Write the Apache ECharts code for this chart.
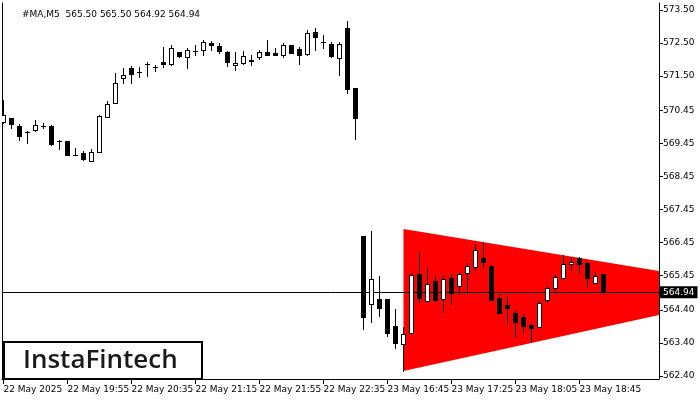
<!DOCTYPE html>
<html>
<head>
<meta charset="utf-8">
<script src="https://cdn.jsdelivr.net/npm/echarts@6/dist/echarts.min.js"></script>
<style>html,body{margin:0;padding:0;background:#fff}#c{width:700px;height:400px}</style>
</head>
<body>
<div id="c"></div>
<script>
// ---- data ----
const openP = [570.10,570.22,569.98,569.80,569.86,569.99,569.98,569.53,569.53,569.10,569.17,568.92,569.20,570.26,570.67,571.43,571.73,571.63,571.86,571.78,571.93,571.85,572.24,572.08,572.27,572.28,572.51,572.41,572.22,571.82,571.88,571.99,572.08,572.23,572.20,572.13,572.43,572.31,572.17,572.82,572.54,572.47,572.04,572.94,571.13,566.65,564.57,564.73,564.73,563.92,563.36,563.71,565.48,564.67,565.28,564.73,565.36,565.13,565.51,565.71,565.99,565.73,564.76,564.55,564.30,564.18,563.95,563.89,564.69,565.08,565.38,565.79,565.97,565.82,565.21,565.50];
const highP = [570.77,570.22,570.04,569.83,570.16,570.08,570.01,569.55,569.53,569.31,569.23,569.27,570.31,570.74,571.60,571.73,571.80,571.78,571.93,571.83,572.37,572.44,572.24,572.34,572.44,572.59,572.57,572.49,572.26,572.22,572.26,572.13,572.29,572.59,572.35,572.49,572.43,572.37,572.89,572.95,572.74,572.52,572.52,573.17,571.13,566.65,566.80,565.43,564.73,564.43,563.89,565.53,566.15,565.67,565.43,565.43,565.48,565.56,565.82,566.39,566.47,565.77,564.88,564.83,564.40,564.27,564.02,564.67,565.13,565.46,566.07,566.00,566.00,565.85,565.54,565.50];
const lowP = [570.07,569.92,569.56,569.47,569.83,569.91,569.41,569.28,569.10,569.09,568.95,568.92,569.18,570.26,570.67,571.30,571.30,571.46,571.50,571.66,571.78,571.83,572.08,571.73,572.14,572.13,572.29,572.19,571.81,571.68,571.85,571.83,572.01,572.14,572.14,572.08,572.20,571.86,572.14,572.29,572.34,572.07,571.53,570.99,569.58,563.82,564.05,564.23,563.61,563.26,562.55,563.67,564.62,564.65,564.67,564.33,564.59,564.88,564.91,565.61,565.71,564.70,564.32,563.97,563.59,563.71,563.44,563.89,564.65,564.96,565.38,565.61,565.51,565.11,565.21,564.92];
const closeP = [570.32,570.04,569.68,569.80,570.01,569.99,569.44,569.53,569.10,569.10,568.97,569.20,570.29,570.64,571.28,571.53,571.56,571.63,571.86,571.78,571.86,572.34,572.10,572.29,572.27,572.52,572.43,572.27,571.91,571.88,572.10,571.96,572.22,572.14,572.14,572.43,572.20,572.14,572.79,572.69,572.54,572.11,572.46,571.09,570.23,564.20,565.34,564.45,563.71,563.41,563.66,565.46,564.76,565.18,564.70,565.34,564.91,565.48,565.73,566.22,565.87,564.70,564.32,564.45,564.05,563.92,563.86,564.60,565.06,565.40,565.79,565.85,565.79,565.36,565.44,564.94];

const xTickPositions = [0, 8, 16, 24, 32, 40, 48, 56, 64, 72];
const xTickLabels = ['22 May 2025','22 May 19:55','22 May 20:35','22 May 21:15','22 May 21:55','22 May 22:35','23 May 16:45','23 May 17:25','23 May 18:05','23 May 18:45'];
const yTickValues = [573.50,572.50,571.50,570.45,569.45,568.45,567.45,566.45,565.45,564.40,563.40,562.40];

// symmetric triangle pattern (bar index, price)
const triangleX = [50, 50, 96.3];
const triangleY = [566.86, 562.55, 565.01];

const titleText = '#MA,M5  565.50 565.50 564.92 564.94';
const logoText = 'InstaFintech';

// ---- chart ----
const candleData = openP.map((o, i) => [i, o, highP[i], lowP[i], closeP[i]]);
const lastClose = closeP[closeP.length - 1];
const FONT = 'DejaVu Sans';

function renderCandle(params, api) {
  const k = api.value(0), o = api.value(1), h = api.value(2), l = api.value(3), c = api.value(4);
  const cx = api.coord([k, o])[0];
  const yo = Math.round(api.coord([k, o])[1]);
  const yc = Math.round(api.coord([k, c])[1]);
  const yh = Math.round(api.coord([k, h])[1]);
  const yl = Math.round(api.coord([k, l])[1]);
  const col = Math.floor(cx);
  const top = Math.min(yo, yc), bot = Math.max(yo, yc);
  const children = [
    { type: 'rect', shape: { x: col, y: yh, width: 1, height: yl - yh + 1 }, style: { fill: '#000' } },
    { type: 'rect', shape: { x: col - 2, y: top, width: 5, height: bot - top + 1 }, style: { fill: '#000' } }
  ];
  if (c > o && bot - top >= 2) {
    children.push({ type: 'rect', shape: { x: col - 1, y: top + 1, width: 3, height: bot - top - 1 }, style: { fill: '#fff' } });
  }
  return { type: 'group', children: children };
}

function clipPoly(pts, r) {
  const edges = [
    [p => p[0] >= r.x, (a, b) => { const t = (r.x - a[0]) / (b[0] - a[0]); return [r.x, a[1] + t * (b[1] - a[1])]; }],
    [p => p[0] <= r.x + r.width, (a, b) => { const X = r.x + r.width; const t = (X - a[0]) / (b[0] - a[0]); return [X, a[1] + t * (b[1] - a[1])]; }],
    [p => p[1] >= r.y, (a, b) => { const t = (r.y - a[1]) / (b[1] - a[1]); return [a[0] + t * (b[0] - a[0]), r.y]; }],
    [p => p[1] <= r.y + r.height, (a, b) => { const Y = r.y + r.height; const t = (Y - a[1]) / (b[1] - a[1]); return [a[0] + t * (b[0] - a[0]), Y]; }]
  ];
  let out = pts;
  edges.forEach(([inside, inter]) => {
    const inp = out; out = [];
    for (let i = 0; i < inp.length; i++) {
      const cur = inp[i], prev = inp[(i + inp.length - 1) % inp.length];
      if (inside(cur)) {
        if (!inside(prev)) out.push(inter(prev, cur));
        out.push(cur);
      } else if (inside(prev)) {
        out.push(inter(prev, cur));
      }
    }
  });
  return out;
}

function renderTriangle(params, api) {
  const pts = triangleX.map((x, i) => api.coord([x, triangleY[i]]));
  const cs = params.coordSys;
  const clipped = clipPoly(pts, { x: cs.x, y: cs.y, width: cs.width, height: cs.height });
  return { type: 'polygon', shape: { points: clipped }, style: { fill: '#ff0000' } };
}

const chart = echarts.init(document.getElementById('c'), null, { renderer: 'canvas' });
chart.setOption({
  animation: false,
  backgroundColor: '#fff',
  title: {
    text: titleText, left: 17, top: 5,
    textStyle: { fontFamily: FONT, fontSize: 9, fontWeight: 'normal', color: '#000' }
  },
  grid: { left: 2, right: 41, top: 3, bottom: 21, containLabel: false },
  xAxis: {
    type: 'value', min: -0.1875, max: 81.9375,
    axisLine: { show: true, lineStyle: { color: '#000', width: 1 } },
    axisTick: { show: true, length: 5, customValues: xTickPositions, lineStyle: { color: '#000' } },
    axisLabel: {
      show: true, customValues: xTickPositions, align: 'left', margin: 6,
      fontFamily: FONT, fontSize: 9, color: '#000',
      formatter: v => xTickLabels[xTickPositions.indexOf(Math.round(v))] || ''
    },
    splitLine: { show: false }
  },
  yAxis: [{
    type: 'value', position: 'right', min: 562.308, max: 573.712,
    axisLine: { show: true, onZero: false, lineStyle: { color: '#000', width: 1 } },
    axisTick: { show: true, length: 4, customValues: yTickValues, lineStyle: { color: '#000' } },
    axisLabel: {
      show: true, customValues: yTickValues, margin: 4,
      fontFamily: FONT, fontSize: 9, color: '#000',
      formatter: v => v.toFixed(2)
    },
    splitLine: { show: false }
  }, {
    type: 'value', position: 'left', min: 562.308, max: 573.712,
    axisLine: { show: true, onZero: false, lineStyle: { color: '#000', width: 1 } },
    axisTick: { show: false }, axisLabel: { show: false }, splitLine: { show: false }
  }],
  series: [{
    type: 'custom', name: 'pattern', renderItem: renderTriangle, data: [[0]], z: 1, silent: true
  }, {
    type: 'custom', name: 'price', renderItem: renderCandle, data: candleData, clip: true, z: 3, silent: true,
    encode: { x: 0, y: [1, 2, 3, 4] },
    markLine: {
      silent: true, symbol: ['none', 'none'], z: 2,
      lineStyle: { color: '#000', width: 1, type: 'solid' },
      label: {
        show: true, position: 'end', distance: 1,
        formatter: p => p.value.toFixed(2),
        backgroundColor: '#000', color: '#fff', padding: [2, 3, 1, 3],
        fontFamily: FONT, fontSize: 9
      },
      data: [{ yAxis: lastClose }]
    }
  }],
  graphic: [{
    type: 'group', left: 3, top: 341, z: 100,
    children: [{
      type: 'rect', shape: { x: 0, y: 0, width: 198, height: 37 },
      style: { fill: '#fff', stroke: '#000', lineWidth: 2 }
    }, {
      type: 'text', x: 19, y: 19,
      style: { text: logoText, fill: '#1a1a1a', font: '600 26px "Open Sans"', verticalAlign: 'middle' }
    }]
  }]
});
</script>
</body>
</html>
